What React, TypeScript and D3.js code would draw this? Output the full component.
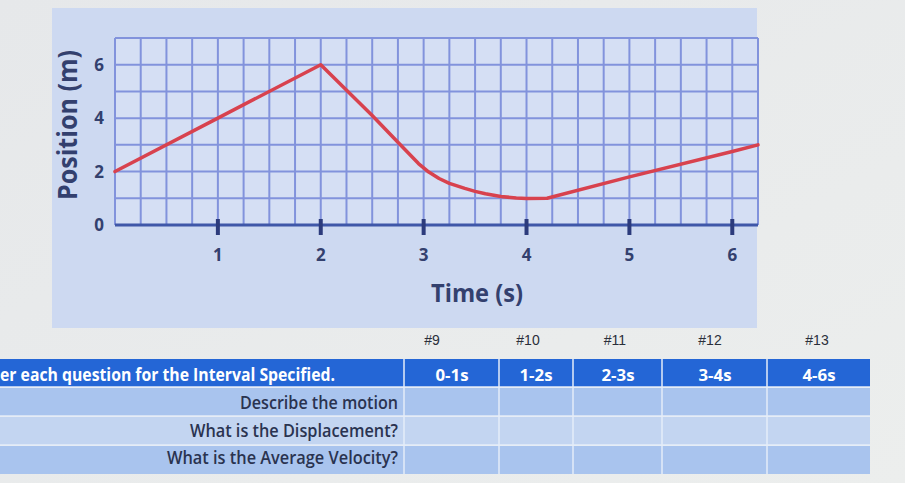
import React from "react";
import * as d3 from "d3";

const times = [0, 1, 2, 2.5, 2.75, 2.95, 3.05, 3.15, 3.25, 3.4, 3.5, 3.6, 3.75, 3.9, 4, 4.2, 5, 6, 6.25];
const positions = [2, 4, 6, 4.1, 3.1, 2.3, 1.98, 1.74, 1.56, 1.37, 1.26, 1.17, 1.07, 1.01, 0.99, 1.0, 1.8, 2.75, 3.0];
const xTicks = [1, 2, 3, 4, 5, 6];
const yTicks = [0, 2, 4, 6];
const questionNumbers = ["#9", "#10", "#11", "#12", "#13"];
const intervals = ["0-1s", "1-2s", "2-3s", "3-4s", "4-6s"];
const questions = ["Describe the motion", "What is the Displacement?", "What is the Average Velocity?"];
const headerTitle = "er each question for the Interval Specified.";

const W = 905;
const H = 483;

export default function App() {
  const x = d3.scaleLinear().domain([0, 6.25]).range([115, 758]);
  const y = d3.scaleLinear().domain([0, 7]).range([225, 38]);
  const vLines = d3.range(0, 6.25 + 0.001, 0.25);
  const hLines = d3.range(0, 8, 1);
  const line = d3
    .line<number>()
    .x((_, i) => x(times[i]))
    .y((d) => y(d))
    .curve(d3.curveLinear);

  const colEdges = [404, 499, 573, 662, 767, 870];
  const colX = d3.scaleOrdinal<string, number>().domain(intervals).range([452, 536, 618, 715, 819]);
  const numX = d3.scaleOrdinal<string, number>().domain(questionNumbers).range([432, 528, 615, 710, 817]);
  const rowTops = [388, 417, 446];
  const rowH = 28;
  const rowBaselines = [409, 437, 464];
  const rowLabelWidths = [158, 208, 231];
  const font = "Open Sans, Lato, sans-serif";

  return (
    <svg width={W} height={H} style={{ position: "absolute", left: 0, top: 0 }}>
      <defs>
        <linearGradient id="bg" x1="0" y1="0" x2="1" y2="1">
          <stop offset="0" stopColor="#e6e8ea" />
          <stop offset="1" stopColor="#eceeed" />
        </linearGradient>
      </defs>
      <rect width={W} height={H} fill="url(#bg)" />
      {/* chart panel */}
      <rect x={52} y={8} width={705} height={320} fill="#cdd9f1" />
      <rect x={x(0)} y={y(7)} width={x(6.25) - x(0)} height={y(0) - y(7)} fill="#d5dff4" />
      {vLines.map((v) => (
        <line key={"v" + v} x1={x(v)} x2={x(v)} y1={y(7)} y2={y(0)} stroke="#8293dc" strokeWidth={2} />
      ))}
      {hLines.map((h) => (
        <line key={"h" + h} x1={x(0)} x2={x(6.25)} y1={y(h)} y2={y(h)} stroke="#8293dc" strokeWidth={2} />
      ))}
      <line x1={x(0)} x2={x(6.25)} y1={y(0)} y2={y(0)} stroke="#3f57a8" strokeWidth={3} />
      {xTicks.map((t) => (
        <g key={"xt" + t}>
          <line x1={x(t)} x2={x(t)} y1={y(0) - 6} y2={y(0) + 10} stroke="#2c3b7c" strokeWidth={4} />
          <text x={x(t)} y={261} textAnchor="middle" fontFamily={font} fontWeight={700} fontSize={17} fill="#33406e">
            {t}
          </text>
        </g>
      ))}
      {yTicks.map((t) => (
        <text key={"yt" + t} x={99} y={y(t) + 6} textAnchor="middle" fontFamily={font} fontWeight={700} fontSize={17} fill="#33406e">
          {t}
        </text>
      ))}
      <path d={line(positions) || ""} fill="none" stroke="#d8424e" strokeWidth={3.5} strokeLinejoin="round" strokeLinecap="round" />
      <text
        transform="translate(77,125) rotate(-90)"
        textAnchor="middle"
        fontFamily={font}
        fontWeight={700}
        fontSize={26}
        fill="#33406e"
        textLength={150}
        lengthAdjust="spacingAndGlyphs"
      >
        Position (m)
      </text>
      <text x={477} y={302} textAnchor="middle" fontFamily={font} fontWeight={700} fontSize={25} fill="#33406e" textLength={92} lengthAdjust="spacingAndGlyphs">
        Time (s)
      </text>

      {/* table */}
      {questionNumbers.map((q) => (
        <text key={q} x={numX(q)} y={345} textAnchor="middle" fontFamily="Liberation Sans, Arial, sans-serif" fontSize={14} fill="#2a2f3a">
          {q}
        </text>
      ))}
      <rect x={0} y={359} width={870} height={28} fill="#2466d6" />
      <text x={0} y={381} fontFamily={font} fontWeight={700} fontSize={17} fill="#ffffff" textLength={335} lengthAdjust="spacingAndGlyphs">
        {headerTitle}
      </text>
      {intervals.map((iv) => (
        <text key={iv} x={colX(iv)} y={381} textAnchor="middle" fontFamily={font} fontWeight={700} fontSize={16} fill="#ffffff" textLength={33} lengthAdjust="spacingAndGlyphs">
          {iv}
        </text>
      ))}
      {questions.map((q, i) => (
        <g key={q}>
          <rect x={0} y={rowTops[i]} width={870} height={rowH} fill={i % 2 === 0 ? "#a9c4ee" : "#c3d5f1"} />
          <text
            x={398}
            y={rowBaselines[i]}
            textAnchor="end"
            fontFamily={font}
            fontWeight={600}
            fontSize={18}
            fill="#2a3350"
            textLength={rowLabelWidths[i]}
            lengthAdjust="spacingAndGlyphs"
          >
            {q}
          </text>
        </g>
      ))}
      {colEdges.slice(0, 5).map((cx, i) => (
        <line key={"c" + i} x1={cx} x2={cx} y1={359} y2={474} stroke="#e4ecf8" strokeWidth={1.5} />
      ))}
      {rowTops.map((ry, i) => (
        <line key={"r" + i} x1={0} x2={870} y1={ry - 1} y2={ry - 1} stroke="#e4ecf8" strokeWidth={1.5} />
      ))}
    </svg>
  );
}
